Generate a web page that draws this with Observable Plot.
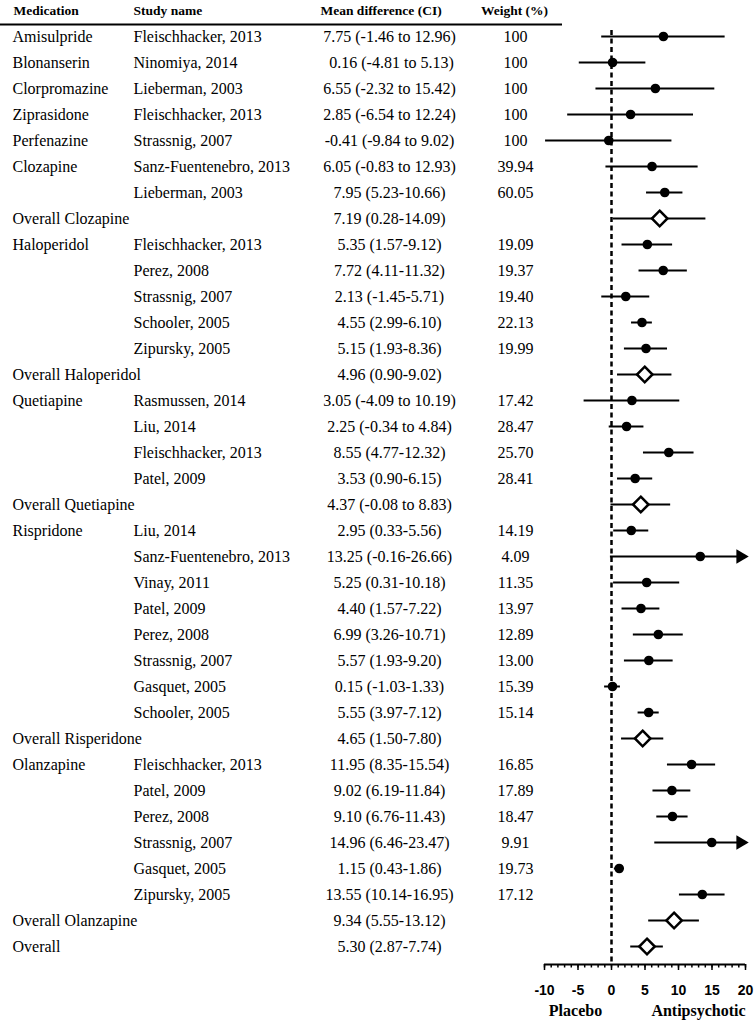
<!DOCTYPE html>
<html>
<head>
<meta charset="utf-8">
<script src="https://cdn.jsdelivr.net/npm/d3@7"></script>
<script src="https://cdn.jsdelivr.net/npm/@observablehq/plot@0.6"></script>
<style>
  html, body { margin: 0; padding: 0; background: #fff; }
  #chart svg { display: block; }
</style>
</head>
<body>
<div id="chart"></div>
<script>
// ---- data ----
const headers = ["Medication", "Study name", "Mean difference (CI)", "Weight (%)"];

const medication = [
  "Amisulpride", "Blonanserin", "Clorpromazine", "Ziprasidone", "Perfenazine",
  "Clozapine", "", "Overall Clozapine",
  "Haloperidol", "", "", "", "", "Overall Haloperidol",
  "Quetiapine", "", "", "", "Overall Quetiapine",
  "Rispridone", "", "", "", "", "", "", "", "Overall Risperidone",
  "Olanzapine", "", "", "", "", "", "Overall Olanzapine",
  "Overall"
];

const study = [
  "Fleischhacker, 2013", "Ninomiya, 2014", "Lieberman, 2003", "Fleischhacker, 2013", "Strassnig, 2007",
  "Sanz-Fuentenebro, 2013", "Lieberman, 2003", "",
  "Fleischhacker, 2013", "Perez, 2008", "Strassnig, 2007", "Schooler, 2005", "Zipursky, 2005", "",
  "Rasmussen, 2014", "Liu, 2014", "Fleischhacker, 2013", "Patel, 2009", "",
  "Liu, 2014", "Sanz-Fuentenebro, 2013", "Vinay, 2011", "Patel, 2009", "Perez, 2008",
  "Strassnig, 2007", "Gasquet, 2005", "Schooler, 2005", "",
  "Fleischhacker, 2013", "Patel, 2009", "Perez, 2008", "Strassnig, 2007", "Gasquet, 2005", "Zipursky, 2005", "",
  ""
];

const effectText = [
  "7.75 (-1.46 to 12.96)", " 0.16 (-4.81 to 5.13)", "6.55 (-2.32 to 15.42)", "2.85 (-6.54 to 12.24)", "-0.41 (-9.84 to 9.02)",
  "6.05 (-0.83 to 12.93)", "7.95 (5.23-10.66)", "7.19 (0.28-14.09)",
  "5.35 (1.57-9.12)", "7.72 (4.11-11.32)", "2.13 (-1.45-5.71)", "4.55 (2.99-6.10)", "5.15 (1.93-8.36)", "4.96 (0.90-9.02)",
  "3.05 (-4.09 to 10.19)", "2.25 (-0.34 to 4.84)", "8.55 (4.77-12.32)", "3.53 (0.90-6.15)", "4.37 (-0.08 to 8.83)",
  "2.95 (0.33-5.56)", "13.25 (-0.16-26.66)", "5.25 (0.31-10.18)", "4.40 (1.57-7.22)", "6.99 (3.26-10.71)",
  "5.57 (1.93-9.20)", "0.15 (-1.03-1.33)", "5.55 (3.97-7.12)", "4.65 (1.50-7.80)",
  "11.95 (8.35-15.54)", "9.02 (6.19-11.84)", "9.10 (6.76-11.43)", "14.96 (6.46-23.47)", "1.15 (0.43-1.86)", "13.55 (10.14-16.95)",
  "9.34 (5.55-13.12)",
  "5.30 (2.87-7.74)"
];

const weight = [
  "100", "100", "100", "100", "100",
  "39.94", "60.05", "",
  "19.09", "19.37", "19.40", "22.13", "19.99", "",
  "17.42", "28.47", "25.70", "28.41", "",
  "14.19", "4.09", "11.35", "13.97", "12.89", "13.00", "15.39", "15.14", "",
  "16.85", "17.89", "18.47", "9.91", "19.73", "17.12", "",
  ""
];

// plotted estimates and interval limits (as drawn)
const mean = [
  7.75, 0.16, 6.55, 2.85, -0.41,
  6.05, 7.95, 7.19,
  5.35, 7.72, 2.13, 4.55, 5.15, 4.96,
  3.05, 2.25, 8.55, 3.53, 4.37,
  2.95, 13.25, 5.25, 4.40, 6.99, 5.57, 0.15, 5.55, 4.65,
  11.95, 9.02, 9.10, 14.96, 1.15, 13.55, 9.34,
  5.30
];
const lower = [
  -1.46, -4.81, -2.32, -6.54, -9.84,
  -0.83, 5.23, 0.28,
  1.57, 4.11, -1.45, 2.99, 1.93, 0.90,
  -4.09, -0.34, 4.77, 0.90, -0.08,
  0.33, -0.16, 0.31, 1.57, 3.26, 1.93, -1.03, 3.97, 1.50,
  8.35, 6.19, 6.76, 6.46, 0.43, 10.14, 5.55,
  2.87
];
const upper = [
  16.96, 5.13, 15.42, 12.24, 9.02,
  12.93, 10.66, 14.09,
  9.12, 11.32, 5.71, 6.10, 8.36, 9.02,
  10.19, 4.84, 12.32, 6.15, 8.83,
  5.56, 26.66, 10.18, 7.22, 10.71, 9.20, 1.33, 7.12, 7.80,
  15.54, 11.84, 11.43, 23.47, 1.86, 16.95, 13.12,
  7.74
];

const xTicks = [-10, -5, 0, 5, 10, 15, 20];
const xMinor = d3.range(-10, 21, 1);
const xDomain = [-10, 20];
const sideLabels = ["Placebo", "Antipsychotic"];

// ---- table built from the arrays ----
const rows = medication.map((m, i) => ({
  i, med: m, study: study[i], eff: effectText[i], w: weight[i],
  mean: mean[i], lo: lower[i], hi: upper[i],
  pooled: m.startsWith("Overall")
}));
const HDR = -1;
const headerRow = [{i: HDR}];
const firstRow = 0, lastRow = rows.length - 1;

const serif = "Liberation Serif, Times New Roman, serif";
const sans = "Liberation Sans, Arial, sans-serif";
const W = 755, H = 1020, ML = 544, MR = 10;
const FS = 16;

const clampLo = d => Math.max(d.lo, xDomain[0]);
const clampHi = d => Math.min(d.hi, xDomain[1]);

const chart = Plot.plot({
  width: W,
  height: H,
  marginLeft: ML,
  marginRight: MR,
  marginTop: 10,
  marginBottom: 56,
  style: {background: "#fff", fontFamily: serif, color: "#000"},
  x: {domain: xDomain, axis: null},
  y: {type: "point", domain: d3.range(HDR, rows.length), padding: 0, insetBottom: 18, axis: null},
  marks: [
    // header
    Plot.text(headerRow, {y: "i", text: () => headers[0], frameAnchor: "left", dx: 13 - ML, textAnchor: "start", fontWeight: "bold", fontSize: 13.5}),
    Plot.text(headerRow, {y: "i", text: () => headers[1], frameAnchor: "left", dx: 133 - ML, textAnchor: "start", fontWeight: "bold", fontSize: 13.5}),
    Plot.text(headerRow, {y: "i", text: () => headers[2], frameAnchor: "left", dx: 320 - ML, textAnchor: "start", fontWeight: "bold", fontSize: 13.5}),
    Plot.text(headerRow, {y: "i", text: () => headers[3], frameAnchor: "left", dx: 514 - ML, textAnchor: "middle", fontWeight: "bold", fontSize: 13.5}),
    Plot.ruleY(headerRow, {y: "i", dy: 14, insetLeft: -ML, insetRight: 745 - 562, strokeWidth: 2, stroke: "#000"}),

    // table columns
    Plot.text(rows, {y: "i", text: "med", frameAnchor: "left", dx: 12 - ML, textAnchor: "start", fontSize: FS}),
    Plot.text(rows, {y: "i", text: "study", frameAnchor: "left", dx: 133 - ML, textAnchor: "start", fontSize: FS}),
    Plot.text(rows, {y: "i", text: "eff", frameAnchor: "left", dx: 389 - ML, textAnchor: "middle", fontSize: FS}),
    Plot.text(rows, {y: "i", text: "w", frameAnchor: "left", dx: 515 - ML, textAnchor: "middle", fontSize: FS}),

    // null line
    Plot.ruleX([{x: 0, a: firstRow, b: lastRow}], {x: "x", y1: "a", y2: "b", insetTop: -6, insetBottom: -18, stroke: "#000", strokeWidth: 2.5, strokeDasharray: "5,3.5"}),

    // whiskers
    Plot.ruleY(rows, {y: "i", x1: clampLo, x2: clampHi, stroke: "#000", strokeWidth: 2}),
    // arrow heads for intervals beyond the axis
    Plot.dot(rows.filter(d => d.hi > xDomain[1]), {x: clampHi, y: "i", symbol: "triangle", rotate: 90, r: 5.3, fill: "#000", stroke: "none", dx: -5}),
    // study estimates
    Plot.dot(rows.filter(d => !d.pooled), {x: "mean", y: "i", r: 4.8, fill: "#000", stroke: "none"}),
    // pooled estimates
    Plot.dot(rows.filter(d => d.pooled), {x: "mean", y: "i", symbol: "diamond2", r: 7, fill: "#fff", stroke: "#000", strokeWidth: 2.5}),

    // x axis
    Plot.ruleY([{y: lastRow}], {y: "y", dy: 18, stroke: "#000", strokeWidth: 2}),
    Plot.axisX({ticks: xMinor, tickSize: 3.5, tickFormat: () => "", strokeWidth: 1.5}),
    Plot.axisX({ticks: xTicks, tickSize: 6, tickPadding: 15, tickFormat: d => String(d), strokeWidth: 1.5, fontFamily: sans, fontWeight: "bold", fontSize: 14, label: null}),
    Plot.text([sideLabels[0]], {text: d => d, frameAnchor: "bottom-left", dx: 575 - ML, dy: 46, lineAnchor: "middle", textAnchor: "middle", fontWeight: "bold", fontSize: 16}),
    Plot.text([sideLabels[1]], {text: d => d, frameAnchor: "bottom-left", dx: 698 - ML, dy: 46, lineAnchor: "middle", textAnchor: "middle", fontWeight: "bold", fontSize: 16})
  ]
});

document.getElementById("chart").appendChild(chart);
</script>
</body>
</html>
